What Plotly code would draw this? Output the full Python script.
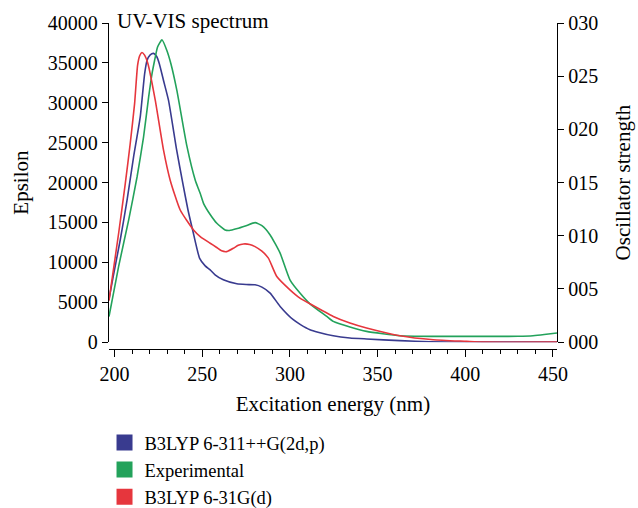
import plotly.graph_objects as go

# ---- data ----
blue_nm = [196.8, 199, 203.2, 207.1, 210.8, 214.6, 217.1, 218.5, 220.3, 222.2, 224, 225.5, 228, 230.75,
           235.4, 238.55, 241.85, 244.5, 248.5, 251.65, 254.5, 257.3, 262, 269.7, 275, 280.1, 284, 288.7,
           294.4, 301.9, 306, 311.4, 316, 324.7, 334.2, 343.7, 362.7, 380, 400, 452.3]
blue_eps = [5400, 8000, 12800, 17800, 23200, 28200, 33600, 35300, 36000, 36190, 35800, 34900, 32700, 30300,
            24060, 20300, 16560, 14060, 10500, 9560, 9060, 8440, 7810, 7310, 7220, 7190, 6900, 6150,
            4480, 2810, 2200, 1560, 1250, 800, 525, 400, 190, 60, 0, 0]

green_nm = [196.8, 202.3, 208, 212.8, 216.5, 219.4, 221.3, 222.8, 224.5, 227, 229.8, 232.1, 235.5, 241.2,
            246, 248.8, 250.7, 254.5, 258.3, 263, 265.5, 270, 275, 280.1, 284, 288.7, 294.4, 300,
            305.7, 311.4, 321, 324.7, 334.2, 343.7, 362.7, 381.7, 400.7, 419.6, 430, 438.6, 445, 452.3]
green_eps = [3200, 9500, 15300, 20700, 25700, 30700, 33600, 35300, 37000, 37900, 36560, 34900, 31560, 24600,
             20300, 18650, 17400, 16000, 14900, 14060, 14000, 14250, 14600, 14975, 14600, 13440, 11150, 7810,
             6150, 4810, 3220, 2600, 1900, 1350, 810, 725, 725, 725, 740, 810, 950, 1150]

red_nm = [196.8, 202.3, 206.1, 208.9, 211.4, 213.1, 214.3, 215.6, 217, 219, 223.2, 227.9, 231.7, 237.4,
          245, 249, 254.5, 258, 261, 264, 267.8, 270.5, 273.5, 277, 280.1, 284, 287.7, 292.5, 300,
          305.7, 311.4, 324.7, 334.2, 343.7, 362.7, 381.7, 400.7, 410, 452.3]
red_eps = [5200, 13650, 19900, 24900, 29900, 34700, 35900, 36310, 36000, 34900, 30300, 24060, 20300, 16560,
           14060, 13200, 12400, 11900, 11450, 11350, 11775, 12150, 12310, 12250, 11975, 11400, 10525, 8225, 6560,
           5525, 4810, 3225, 2400, 1775, 810, 310, 100, 0, 0]

osc_ticks = [0, 0.005, 0.010, 0.015, 0.020, 0.025, 0.030]
osc_labels = ["000", "005", "010", "015", "020", "025", "030"]
x_ticks = [200, 250, 300, 350, 400, 450]

names = ["B3LYP 6-311++G(2d,p)", "Experimental", "B3LYP 6-31G(d)"]
colors = ["#393b8f", "#23a25b", "#e6363d"]

FONT = "Liberation Serif"

fig = go.Figure()
series = [(blue_nm, blue_eps), (green_nm, green_eps), (red_nm, red_eps)]
for (xs, ys), c, n in zip(series, colors, names):
    fig.add_trace(go.Scatter(x=xs, y=ys, mode="lines",
                             line=dict(color=c, width=1.6, shape="spline", smoothing=0.5),
                             showlegend=False, name=n))
# legend entries (square swatches)
for c, n in zip(colors, names):
    fig.add_trace(go.Scatter(x=[None], y=[None], mode="markers", name=n,
                             marker=dict(symbol="square", size=16, color=c, line=dict(width=0))))
# secondary (oscillator strength) axis holder
fig.add_trace(go.Scatter(x=[None], y=[None], yaxis="y2", mode="lines", showlegend=False, hoverinfo="skip"))

fig.update_layout(
    width=638, height=508,
    margin=dict(l=109, r=81, t=23, b=159, autoexpand=False),
    paper_bgcolor="white", plot_bgcolor="white",
    font=dict(family=FONT, size=20, color="black"),
    title=dict(text="UV-VIS spectrum", x=0.018, xref="paper", xanchor="left",
               y=1 - 21 / 508, yref="container", yanchor="middle",
               font=dict(family=FONT, size=21, color="black")),
    xaxis=dict(range=[196.8, 452.3], anchor="free", position=0, showline=True, linecolor="black", linewidth=1.3,
               ticks="outside", ticklen=7, tickwidth=1.3, tickcolor="black", tickvals=x_ticks,
               minor=dict(ticks="outside", dtick=10, tick0=200, ticklen=4, tickwidth=1.3, tickcolor="black",
                          showgrid=False),
               showgrid=False, zeroline=False,
               title=dict(text="Excitation energy (nm)", standoff=12, font=dict(size=21))),
    yaxis=dict(domain=[0.021, 1], range=[0, 40000], dtick=5000, tickformat="d", showline=True, linecolor="black",
               linewidth=1.3, ticks="outside", ticklen=6, tickwidth=1.3, tickcolor="black",
               showgrid=False, zeroline=False,
               title=dict(text="Epsilon", standoff=13, font=dict(size=21))),
    yaxis2=dict(overlaying="y", side="right", anchor="x", range=[0, 0.03], tickvals=osc_ticks, ticktext=osc_labels,
                showline=True, linecolor="black", linewidth=1.3, ticks="outside", ticklen=6, tickwidth=1.3,
                tickcolor="black", showgrid=False, zeroline=False,
                title=dict(text="Oscillator strength", standoff=18, font=dict(size=21))),
    legend=dict(x=-0.01, xanchor="left", y=1 - 424 / 508, yref="container", yanchor="top",
                font=dict(family=FONT, size=18.5, color="black"), bgcolor="rgba(0,0,0,0)", borderwidth=0,
                itemsizing="trace"),
    showlegend=True,
)

fig.write_html("out.html")
